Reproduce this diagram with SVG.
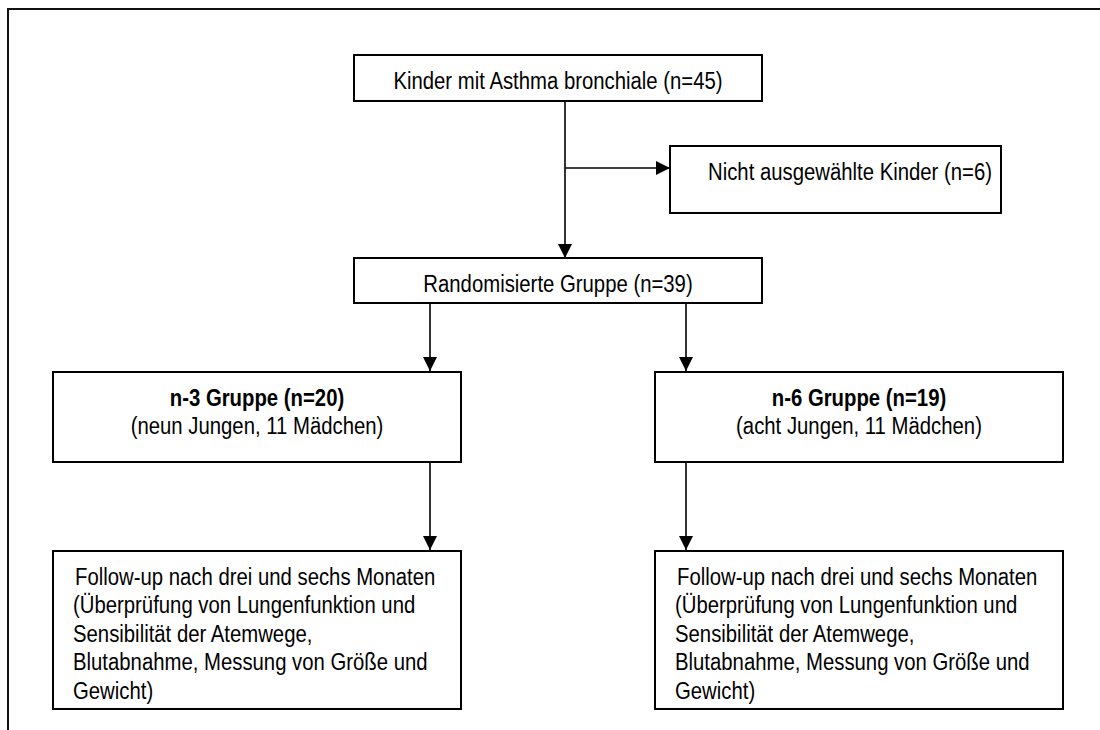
<svg xmlns="http://www.w3.org/2000/svg" width="1100" height="730" viewBox="0 0 1100 730">
<style>
.box{fill:#fff;stroke:#000;stroke-width:2}
.frame{fill:none;stroke:#111;stroke-width:2}
.con{fill:none;stroke:#000;stroke-width:1.6}
text{font-family:"Liberation Sans",Arial,sans-serif;font-size:24.8px;fill:#000}
.c{text-anchor:middle}
.b{font-weight:bold}
</style>
<defs>
<marker id="ah" markerUnits="userSpaceOnUse" markerWidth="15" markerHeight="15" refX="14" refY="7" orient="auto">
<path d="M0,0 L14,7 L0,14 z" fill="#000"/>
</marker>
</defs>
<rect width="1100" height="730" fill="#fff"/>
<path class="frame" d="M8,730 L8,9 L1100,9"/>
<g id="connectors">
<line class="con" x1="565" y1="101" x2="565" y2="258" marker-end="url(#ah)"/>
<line class="con" x1="565" y1="168" x2="670" y2="168" marker-end="url(#ah)"/>
<line class="con" x1="430" y1="303" x2="430" y2="371" marker-end="url(#ah)"/>
<line class="con" x1="686" y1="303" x2="686" y2="371" marker-end="url(#ah)"/>
<line class="con" x1="430" y1="462" x2="430" y2="550" marker-end="url(#ah)"/>
<line class="con" x1="686" y1="462" x2="686" y2="550" marker-end="url(#ah)"/>
</g>
<g id="n1">
<rect class="box" x="354" y="55" width="408" height="46"/>
<text class="c" transform="translate(558 0) scale(0.82 1)" x="0" y="89">Kinder mit Asthma bronchiale (n=45)</text>
</g>
<g id="n2">
<rect class="box" x="670" y="146" width="331" height="67"/>
<text transform="translate(708 0) scale(0.82 1)" x="0" y="180">Nicht ausgewählte Kinder (n=6)</text>
</g>
<g id="n3">
<rect class="box" x="354" y="258" width="408" height="45"/>
<text class="c" transform="translate(558 0) scale(0.82 1)" x="0" y="292">Randomisierte Gruppe (n=39)</text>
</g>
<g id="n4">
<rect class="box" x="53" y="372" width="408" height="90"/>
<text class="c b" transform="translate(257 0) scale(0.82 1)" x="0" y="406">n-3 Gruppe (n=20)</text>
<text class="c" transform="translate(257 0) scale(0.82 1)" x="0" y="434">(neun Jungen, 11 Mädchen)</text>
</g>
<g id="n5">
<rect class="box" x="655" y="372" width="408" height="90"/>
<text class="c b" transform="translate(859 0) scale(0.82 1)" x="0" y="406">n-6 Gruppe (n=19)</text>
<text class="c" transform="translate(859 0) scale(0.82 1)" x="0" y="434">(acht Jungen, 11 Mädchen)</text>
</g>
<g id="n6">
<rect class="box" x="53" y="551" width="408" height="158"/>
<text transform="translate(75 0) scale(0.82 1)" x="0" y="585">Follow-up nach drei und sechs Monaten</text>
<text transform="translate(73 0) scale(0.82 1)" x="0" y="613.5">(Überprüfung von Lungenfunktion und</text>
<text transform="translate(73 0) scale(0.82 1)" x="0" y="642">Sensibilität der Atemwege,</text>
<text transform="translate(73 0) scale(0.82 1)" x="0" y="670.5">Blutabnahme, Messung von Größe und</text>
<text transform="translate(73 0) scale(0.82 1)" x="0" y="699">Gewicht)</text>
</g>
<g id="n7">
<rect class="box" x="655" y="551" width="408" height="158"/>
<text transform="translate(677 0) scale(0.82 1)" x="0" y="585">Follow-up nach drei und sechs Monaten</text>
<text transform="translate(675 0) scale(0.82 1)" x="0" y="613.5">(Überprüfung von Lungenfunktion und</text>
<text transform="translate(675 0) scale(0.82 1)" x="0" y="642">Sensibilität der Atemwege,</text>
<text transform="translate(675 0) scale(0.82 1)" x="0" y="670.5">Blutabnahme, Messung von Größe und</text>
<text transform="translate(675 0) scale(0.82 1)" x="0" y="699">Gewicht)</text>
</g>
</svg>
